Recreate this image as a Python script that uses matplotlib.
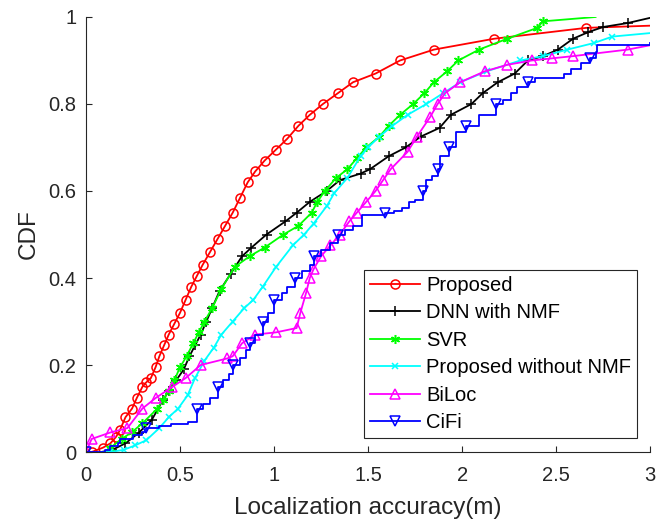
import matplotlib
matplotlib.use("Agg")
import matplotlib.pyplot as plt
import numpy as np
from matplotlib.ticker import FormatStrFormatter

plt.rcParams['font.family'] = ['Liberation Sans', 'DejaVu Sans']

# ---- data ----
x_prop = [0, 0.03, 0.09, 0.13, 0.16, 0.18, 0.21, 0.245, 0.27, 0.30, 0.32, 0.345, 0.37, 0.39,
          0.415, 0.44, 0.47, 0.50, 0.53, 0.56, 0.59, 0.62, 0.66, 0.70, 0.74, 0.78, 0.82, 0.86,
          0.90, 0.95, 1.01, 1.07, 1.13, 1.19, 1.26, 1.34, 1.42, 1.54, 1.67, 1.85, 2.17, 2.66, 3.0]
y_prop = [0, 0.0, 0.01, 0.02, 0.035, 0.05, 0.08, 0.10, 0.124, 0.15, 0.16, 0.17, 0.195, 0.22,
          0.245, 0.27, 0.295, 0.32, 0.35, 0.38, 0.405, 0.43, 0.46, 0.49, 0.52, 0.55, 0.585, 0.62,
          0.645, 0.67, 0.695, 0.72, 0.75, 0.775, 0.80, 0.825, 0.85, 0.87, 0.90, 0.925, 0.95, 0.975, 0.98]

x_dnn = [0.08, 0.14, 0.21, 0.28, 0.35, 0.41, 0.44, 0.48, 0.52, 0.55, 0.58, 0.61, 0.64, 0.67, 0.71,
         0.77, 0.83, 0.88, 0.96, 1.06, 1.12, 1.19, 1.28, 1.35, 1.46, 1.51, 1.61, 1.70, 1.78, 1.88,
         1.94, 2.05, 2.11, 2.19, 2.28, 2.35, 2.43, 2.51, 2.59, 2.67, 2.75, 2.88, 3.0]
y_dnn = [0, 0.005, 0.02, 0.044, 0.074, 0.12, 0.14, 0.165, 0.19, 0.22, 0.245, 0.27, 0.30, 0.33, 0.37,
         0.41, 0.45, 0.47, 0.50, 0.53, 0.55, 0.575, 0.60, 0.625, 0.64, 0.65, 0.68, 0.70, 0.725, 0.745,
         0.775, 0.80, 0.825, 0.85, 0.87, 0.90, 0.91, 0.925, 0.95, 0.965, 0.977, 0.986, 0.998]

x_svr = [0.10, 0.13, 0.19, 0.245, 0.30, 0.38, 0.41, 0.44, 0.47, 0.50, 0.535, 0.57, 0.60, 0.63, 0.67,
         0.72, 0.79, 0.87, 0.95, 1.05, 1.13, 1.20, 1.23, 1.27, 1.33, 1.39, 1.44, 1.49, 1.56, 1.61,
         1.67, 1.74, 1.80, 1.85, 1.92, 1.98, 2.09, 2.24, 2.40, 2.43, 2.71]
y_svr = [0, 0.01, 0.03, 0.046, 0.066, 0.10, 0.12, 0.14, 0.165, 0.195, 0.22, 0.25, 0.275, 0.30, 0.33,
         0.375, 0.425, 0.45, 0.47, 0.50, 0.52, 0.55, 0.575, 0.60, 0.63, 0.65, 0.675, 0.70, 0.725, 0.75,
         0.775, 0.80, 0.825, 0.85, 0.875, 0.90, 0.925, 0.95, 0.975, 0.99, 1.0]

x_wo = [0.08, 0.13, 0.20, 0.26, 0.32, 0.39, 0.44, 0.49, 0.54, 0.58, 0.63, 0.68, 0.72, 0.78, 0.84,
        0.89, 0.94, 1.01, 1.10, 1.16, 1.21, 1.28, 1.32, 1.39, 1.46, 1.50, 1.56, 1.63, 1.71, 1.81,
        1.90, 1.99, 2.13, 2.31, 2.43, 2.56, 2.70, 2.80, 3.0]
y_wo = [0, 0.0, 0.005, 0.015, 0.027, 0.055, 0.08, 0.10, 0.13, 0.17, 0.21, 0.24, 0.27, 0.30, 0.33,
        0.35, 0.38, 0.425, 0.475, 0.50, 0.525, 0.565, 0.595, 0.63, 0.68, 0.70, 0.725, 0.75, 0.775, 0.80,
        0.825, 0.85, 0.875, 0.90, 0.91, 0.925, 0.94, 0.955, 0.963]

x_biloc = [0, 0.03, 0.13, 0.22, 0.30, 0.37, 0.46, 0.53, 0.61, 0.75, 0.78, 0.83, 0.90, 1.01, 1.12,
           1.14, 1.17, 1.19, 1.21, 1.25, 1.30, 1.35, 1.40, 1.44, 1.49, 1.54, 1.58, 1.62, 1.71, 1.76,
           1.83, 1.87, 1.91, 1.99, 2.12, 2.24, 2.37, 2.48, 2.59, 2.88, 3.0]
y_biloc = [0, 0.03, 0.045, 0.055, 0.10, 0.124, 0.15, 0.17, 0.20, 0.215, 0.22, 0.25, 0.27, 0.275, 0.285,
           0.32, 0.365, 0.40, 0.42, 0.45, 0.475, 0.50, 0.53, 0.55, 0.575, 0.60, 0.625, 0.65, 0.69, 0.725,
           0.77, 0.80, 0.825, 0.85, 0.875, 0.89, 0.90, 0.905, 0.91, 0.925, 0.935]

x_cifi = [0, 0.10, 0.13, 0.17, 0.18, 0.25, 0.30, 0.32, 0.39, 0.45, 0.54, 0.59, 0.62, 0.66, 0.70,
          0.73, 0.76, 0.78, 0.82, 0.85, 0.87, 0.90, 0.94, 0.97, 1.00, 1.04, 1.07, 1.11, 1.15, 1.19,
          1.21, 1.25, 1.30, 1.34, 1.38, 1.42, 1.47, 1.59, 1.64, 1.68, 1.72, 1.75, 1.79, 1.81, 1.84,
          1.87, 1.88, 1.93, 1.97, 2.02, 2.09, 2.18, 2.22, 2.26, 2.29, 2.35, 2.39, 2.54, 2.58, 2.63,
          2.68, 2.71, 2.72, 3.0]
y_cifi = [0, 0.005, 0.013, 0.02, 0.03, 0.04, 0.046, 0.055, 0.06, 0.065, 0.07, 0.10, 0.11, 0.125, 0.15,
          0.165, 0.18, 0.20, 0.215, 0.235, 0.25, 0.27, 0.30, 0.32, 0.35, 0.365, 0.38, 0.40, 0.415, 0.43,
          0.45, 0.465, 0.48, 0.50, 0.51, 0.52, 0.545, 0.55, 0.555, 0.56, 0.575, 0.58, 0.60, 0.625, 0.635,
          0.65, 0.68, 0.70, 0.735, 0.75, 0.775, 0.80, 0.81, 0.825, 0.84, 0.85, 0.86, 0.87, 0.88, 0.895,
          0.905, 0.92, 0.935, 0.94]

labels = ["Proposed", "DNN with NMF", "SVR", "Proposed without NMF", "BiLoc", "CiFi"]
x_ticks = [0, 0.5, 1, 1.5, 2, 2.5, 3]
y_ticks = [0, 0.2, 0.4, 0.6, 0.8, 1]

# ---- figure ----
fig = plt.figure(figsize=(6.59, 5.21), dpi=100)
ax = fig.add_axes([0.1305, 0.1324, 0.856, 0.835])

lw = 1.3
ax.plot(x_prop, y_prop, color=(1, 0, 0), lw=lw, marker='o', ms=6.5, mfc='none', mew=1.1,
        markevery=slice(1, -1), label=labels[0])
ax.plot(x_dnn, y_dnn, color='k', lw=lw, marker='+', ms=7, mew=1.1,
        markevery=slice(1, -1), label=labels[1])
ax.plot(x_svr, y_svr, color=(0, 1, 0), lw=lw, marker=(6, 2, 0), ms=6.5, mew=1.1,
        markevery=slice(1, -1), label=labels[2])
ax.plot(x_wo, y_wo, color=(0, 1, 1), lw=lw, marker='x', ms=5, mew=1.1,
        markevery=slice(1, -1), label=labels[3])
ax.plot(x_biloc, y_biloc, color=(1, 0, 1), lw=lw, marker='^', ms=7, mfc='none', mew=1.1,
        markevery=slice(1, -1), label=labels[4])

# CiFi: staircase, markers at every 0.05 step of the CDF
yc = np.array(y_cifi)
mk = []
for lev in np.arange(0.0, 0.95, 0.05):
    idx = int(np.argmax(yc >= lev - 1e-9))
    if idx not in mk:
        mk.append(idx)
ax.plot(x_cifi, y_cifi, color=(0, 0, 1), lw=lw, drawstyle='steps-post', marker='v', ms=7,
        mfc='none', mew=1.1, markevery=mk, label=labels[5])

ax.set_xlim(0, 3)
ax.set_ylim(0, 1)
ax.set_xticks(x_ticks)
ax.set_yticks(y_ticks)
ax.xaxis.set_major_formatter(FormatStrFormatter('%g'))
ax.yaxis.set_major_formatter(FormatStrFormatter('%g'))

axc = '#262626'
for s in ['top', 'right']:
    ax.spines[s].set_visible(False)
for s in ['left', 'bottom']:
    ax.spines[s].set_color(axc)
    ax.spines[s].set_linewidth(0.8)
ax.tick_params(direction='in', length=4.5, width=0.8, colors=axc, labelsize=14.5)
ax.tick_params(axis='x', pad=10)
ax.tick_params(axis='y', pad=7)

ax.set_xlabel("Localization accuracy(m)", fontsize=17.5, color=axc, labelpad=9)
ax.set_ylabel("CDF", fontsize=17.5, color=axc, labelpad=6)

leg = ax.legend(loc='lower right', bbox_to_anchor=(0.977, 0.032), fontsize=14.5, numpoints=1,
                handlelength=2.5, handletextpad=0.3, borderpad=0.3, labelspacing=0.42,
                borderaxespad=0, fancybox=False, framealpha=1, edgecolor=axc)
leg.get_frame().set_linewidth(0.8)
for h in leg.legend_handles:
    h.set_markevery([1])

fig.savefig("out.png", dpi=100)
